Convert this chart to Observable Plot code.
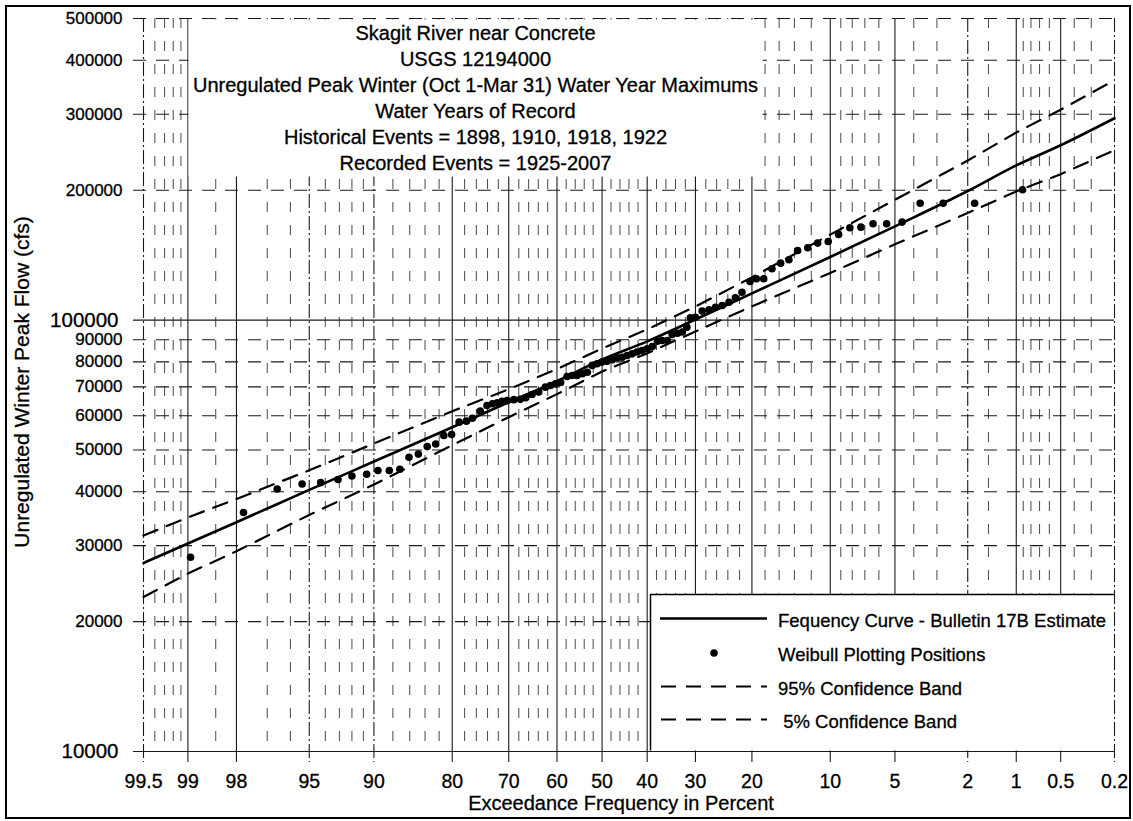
<!DOCTYPE html>
<html>
<head>
<meta charset="utf-8">
<script src="https://cdn.jsdelivr.net/npm/d3@7"></script>
<script src="https://cdn.jsdelivr.net/npm/@observablehq/plot@0.6"></script>
<style>
  body { margin: 0; background: #fff; font-family: "Liberation Sans", Arial, sans-serif; }
  #wrap { position: relative; width: 1133px; height: 821px; overflow: hidden; background: #fff; }
  #wrap > svg { position: absolute; left: 0; top: 0; }
  #wrap svg text { stroke: #000; stroke-width: 0.3px; }
  #frame { position: absolute; left: 5px; top: 5px; width: 1122px; height: 810px; border: 2px solid #000; pointer-events: none; }
</style>
</head>
<body>
<div id="wrap"></div>
<script>
// Exceedance probabilities (percent) used for labelled grid lines
const exceedTicks = [99.5, 99, 98, 95, 90, 80, 70, 60, 50, 40, 30, 20, 10, 5, 2, 1, 0.5, 0.2];
// Labelled lines drawn dash-dot rather than solid
const exceedDashed = [99.5, 95, 90, 2, 0.2];
// Unlabelled intermediate probability lines
const exceedMinor = [99.4, 99.3, 99.2, 99.1, 98.5, 97, 96, 94, 93, 92, 91, 88, 86, 84, 82,
  78, 76, 74, 72, 68, 66, 64, 62, 58, 56, 54, 52, 48, 46, 44, 42, 38, 36, 34, 32,
  28, 26, 24, 22, 18, 16, 14, 12, 9, 8, 7, 6, 4, 3, 1.5, 0.9, 0.8, 0.7, 0.6, 0.4, 0.3];
// Flow tick values (cfs)
const flowTicks = [10000, 20000, 30000, 40000, 50000, 60000, 70000, 80000, 90000,
  100000, 200000, 300000, 400000, 500000];
const flowDecades = [10000, 100000];

// Bulletin 17B frequency curve and its confidence limits
const curveExceed = [99.5, 99, 98, 95, 90, 80, 70, 60, 50, 40, 30, 20, 10, 5, 2, 1, 0.5, 0.2];
const curveFlow = [27350, 30350, 34000, 40400, 47000, 56450, 64500, 72200, 81000, 89250,
  100300, 115300, 140000, 164900, 199100, 228300, 254200, 293600];
const upper95 = [31670, 34870, 38490, 44840, 51750, 61470, 69140, 76970, 85940, 95140,
  107500, 125600, 157800, 190000, 234300, 272100, 307300, 359700];
const lower5 = [22810, 25850, 29130, 35350, 41560, 51270, 59560, 67350, 75980, 83720,
  94090, 107600, 128600, 149800, 177100, 198700, 217800, 247600];

// Weibull plotting positions: exceedance (%) and peak flow (cfs)
const weibullExceed = [98.96, 97.8, 96.6, 95.4, 94.3, 93.1, 92.0, 90.7, 89.6, 88.4,
  87.2, 86.1, 84.9, 83.7, 82.5, 81.3, 80.1, 78.9, 77.7, 76.7,
  75.3, 74.1, 73.1, 72.2, 71.3, 70.3, 69.0, 67.7, 66.6, 65.3,
  63.9, 62.5, 61.4, 60.3, 59.2, 57.8, 56.7, 55.6, 54.4, 53.3,
  52.2, 51.1, 50.0, 48.9, 47.7, 46.6, 45.5, 44.4, 43.3, 42.2,
  41.1, 40.0, 38.9, 37.8, 36.8, 35.7, 34.7, 33.6, 32.6, 31.7,
  31.0, 30.0, 28.7, 27.4, 26.2, 25.0, 23.8, 22.7, 21.6, 20.3,
  19.3, 18.2, 17.0, 15.8, 14.7, 13.6, 12.4, 11.3, 10.2, 9.2,
  8.2, 7.3, 6.4, 5.5, 4.6, 3.7, 2.77, 1.82, 0.91];
const weibullFlow = [28200, 35800, 40600, 41700, 42000, 42700, 43500, 43900, 44800, 44800,
  45100, 48100, 48900, 50900, 51600, 54000, 54300, 58000, 58300, 59200,
  61500, 63400, 64000, 64300, 64800, 65100, 65400, 65500, 66100, 67200,
  68100, 69900, 70500, 71200, 71700, 74000, 74400, 74400, 75100, 75700,
  78500, 79200, 79900, 80300, 80900, 81800, 82000, 82800, 83500, 84300,
  85000, 85800, 86800, 89300, 89700, 89700, 92600, 93200, 93800, 96300,
  101200, 101500, 104900, 105600, 107100, 108100, 110000, 112600, 116000, 122900,
  124700, 124700, 131500, 135500, 138000, 145000, 147100, 150800, 152100, 157900,
  163700, 164200, 167200, 167200, 168700, 186600, 186600, 186600, 200500];

// Inverse standard normal CDF (Acklam's rational approximation)
function qnorm(p) {
  const a = [-3.969683028665376e+01, 2.209460984245205e+02, -2.759285104469687e+02,
    1.383577518672690e+02, -3.066479806614716e+01, 2.506628277459239e+00];
  const b = [-5.447609879822406e+01, 1.615858368580409e+02, -1.556989798598866e+02,
    6.680131188771972e+01, -1.328068155288572e+01];
  const c = [-7.784894002430293e-03, -3.223964580411365e-01, -2.400758277161838e+00,
    -2.549732539343734e+00, 4.374664141464968e+00, 2.938163982698783e+00];
  const d = [7.784695709041462e-03, 3.224671290700398e-01, 2.445134137142996e+00,
    3.754408661907416e+00];
  const pl = 0.02425;
  if (p < pl) {
    const q = Math.sqrt(-2 * Math.log(p));
    return (((((c[0]*q+c[1])*q+c[2])*q+c[3])*q+c[4])*q+c[5]) / ((((d[0]*q+d[1])*q+d[2])*q+d[3])*q+1);
  }
  if (p <= 1 - pl) {
    const q = p - 0.5, r = q * q;
    return (((((a[0]*r+a[1])*r+a[2])*r+a[3])*r+a[4])*r+a[5])*q / (((((b[0]*r+b[1])*r+b[2])*r+b[3])*r+b[4])*r+1);
  }
  const q = Math.sqrt(-2 * Math.log(1 - p));
  return -(((((c[0]*q+c[1])*q+c[2])*q+c[3])*q+c[4])*q+c[5]) / ((((d[0]*q+d[1])*q+d[2])*q+d[3])*q+1);
}
// Probability-paper position: standard normal deviate of non-exceedance
const zOf = e => qnorm(1 - e / 100);

const curve = curveExceed.map((e, i) => ({e, flow: curveFlow[i], upper: upper95[i], lower: lower5[i]}));
const points = weibullExceed.map((e, i) => ({e, flow: weibullFlow[i]}));

const gridColor = "#1a1a1a";

const chart = Plot.plot({
  width: 1133,
  height: 821,
  marginLeft: 143,
  marginRight: 19,
  marginTop: 18,
  marginBottom: 70,
  style: {fontFamily: "'Liberation Sans', Arial, sans-serif", background: "#fff", overflow: "visible", color: "#000"},
  x: {type: "linear", domain: [zOf(99.5), zOf(0.2)], axis: null},
  y: {type: "log", domain: [10000, 500000], axis: null},
  marks: [
    // probability grid
    Plot.ruleX(exceedMinor, {x: zOf, stroke: gridColor, strokeWidth: 1, strokeDasharray: "10,13", strokeOpacity: 0.8}),
    Plot.ruleX(exceedTicks.filter(e => !exceedDashed.includes(e)), {x: zOf, stroke: gridColor, strokeWidth: 1.1, insetBottom: -11}),
    Plot.ruleX(exceedDashed, {x: zOf, stroke: gridColor, strokeWidth: 1.1, strokeDasharray: "14,3,2,3", insetBottom: -11}),
    // flow grid
    Plot.ruleY(flowTicks.filter(v => !flowDecades.includes(v)), {y: d => d, stroke: gridColor, strokeWidth: 1.1, strokeDasharray: "13,10", insetLeft: -10}),
    Plot.ruleY(flowDecades, {y: d => d, stroke: gridColor, strokeWidth: 1.2, insetLeft: -10}),
    // confidence limits
    Plot.line(curve, {x: d => zOf(d.e), y: "upper", stroke: "#000", strokeWidth: 2.2, strokeDasharray: "15,10"}),
    Plot.line(curve, {x: d => zOf(d.e), y: "lower", stroke: "#000", strokeWidth: 2.2, strokeDasharray: "15,10"}),
    // frequency curve
    Plot.line(curve, {x: d => zOf(d.e), y: "flow", stroke: "#000", strokeWidth: 2.6, curve: "monotone-x"}),
    // observed peaks
    Plot.dot(points, {x: d => zOf(d.e), y: "flow", r: 3.8, fill: "#000", stroke: "none"}),
    // y tick labels
    Plot.text(flowTicks.filter(v => !flowDecades.includes(v)), {y: d => d, text: d => String(d), frameAnchor: "left", dx: -21, textAnchor: "end", fontSize: 17}),
    Plot.text(flowDecades, {y: d => d, text: d => String(d), frameAnchor: "left", dx: -25, textAnchor: "end", fontSize: 20.5}),
    // x tick labels
    Plot.text(exceedTicks, {x: zOf, text: d => String(d), frameAnchor: "bottom", dy: 36, fontSize: 19.5}),
    // axis titles
    Plot.text(["Exceedance Frequency in Percent"], {frameAnchor: "bottom", dx: -8, dy: 58.5, fontSize: 20}),
    Plot.text(["Unregulated Winter Peak Flow (cfs)"], {frameAnchor: "left", textAnchor: "middle", rotate: -90, dx: -121, dy: -3, fontSize: 21})
  ]
});

const wrap = document.getElementById("wrap");
wrap.appendChild(chart);

// Title block and legend drawn over the grid
const ns = "http://www.w3.org/2000/svg";
const over = document.createElementNS(ns, "svg");
over.setAttribute("width", 1133);
over.setAttribute("height", 821);
over.setAttribute("font-family", "'Liberation Sans', Arial, sans-serif");
function el(tag, attrs, text) {
  const n = document.createElementNS(ns, tag);
  for (const k in attrs) n.setAttribute(k, attrs[k]);
  if (text != null) n.textContent = text;
  over.appendChild(n);
  return n;
}
el("rect", {x: 188.5, y: 19.5, width: 574, height: 157, fill: "#fff"});
const titleLines = [
  "Skagit River near Concrete",
  "USGS 12194000",
  "Unregulated Peak Winter (Oct 1-Mar 31) Water Year Maximums",
  "Water Years of Record",
  "Historical Events = 1898, 1910, 1918, 1922",
  "Recorded Events = 1925-2007"
];
titleLines.forEach((t, i) => el("text", {x: 475.5, y: 39.5 + 26.1 * i, "text-anchor": "middle", "font-size": 20, fill: "#000"}, t));

el("rect", {x: 650.5, y: 594, width: 463, height: 156.5, fill: "#fff"});
el("path", {d: "M650.5,750.5V594.5H1114", fill: "none", stroke: "#000", "stroke-width": 1.5});
el("line", {x1: 660, x2: 767, y1: 618.5, y2: 618.5, stroke: "#000", "stroke-width": 2.6});
el("circle", {cx: 714, cy: 653, r: 3.8, fill: "#000"});
el("line", {x1: 661, x2: 767, y1: 686.5, y2: 686.5, stroke: "#000", "stroke-width": 2.2, "stroke-dasharray": "15,10"});
el("line", {x1: 661, x2: 767, y1: 719.5, y2: 719.5, stroke: "#000", "stroke-width": 2.2, "stroke-dasharray": "15,10"});
const legendLines = [
  ["Fequency Curve - Bulletin 17B Estimate", 626.5],
  ["Weibull Plotting Positions", 661],
  ["95% Confidence Band", 694.5],
  ["\u00a05% Confidence Band", 727.5]
];
legendLines.forEach(([t, y]) => el("text", {x: 778, y, "font-size": 18.5, fill: "#000"}, t));
wrap.appendChild(over);

const frame = document.createElement("div");
frame.id = "frame";
wrap.appendChild(frame);
</script>
</body>
</html>
